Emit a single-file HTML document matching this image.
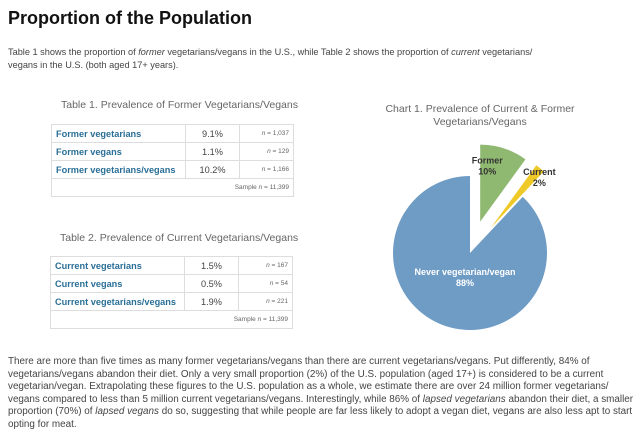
<!DOCTYPE html>
<html><head><meta charset="utf-8">
<style>
body{margin:0;width:640px;height:430px;background:#fff;font-family:"Liberation Sans",Arial,sans-serif;color:#333;position:relative;overflow:hidden}
.abs{position:absolute}
h1{position:absolute;left:8px;top:8px;margin:0;font-size:18px;font-weight:bold;color:#111;white-space:nowrap}
.p{font-size:9.2px;line-height:12.5px;color:#444;white-space:nowrap}
.tt{font-size:10.5px;color:#666}
table{position:absolute;border-collapse:collapse;font-size:9.2px}
td{border:1px solid #ddd;height:17px;padding:0 4px}
td.l{color:#2a6f97;font-weight:bold;width:125px}
td.v{text-align:center;color:#444;width:45px}
td.n{text-align:right;color:#666;font-size:6.5px;width:45px}
td.s{text-align:right;color:#666;font-size:6.5px}
</style></head><body>
<h1>Proportion of the Population</h1>
<div class="abs p" style="left:8px;top:46px">Table 1 shows the proportion of <i>former</i> vegetarians/vegans in the U.S., while Table 2 shows the proportion of <i>current</i> vegetarians/<br>vegans in the U.S. (both aged 17+ years).</div>

<div class="abs tt" style="left:61px;top:99px">Table 1. Prevalence of Former Vegetarians/Vegans</div>
<table style="left:51px;top:124px;width:243px">
<tr><td class="l">Former vegetarians</td><td class="v">9.1%</td><td class="n"><i>n</i> = 1,037</td></tr>
<tr><td class="l">Former vegans</td><td class="v">1.1%</td><td class="n"><i>n</i> = 129</td></tr>
<tr><td class="l">Former vegetarians/vegans</td><td class="v">10.2%</td><td class="n"><i>n</i> = 1,166</td></tr>
<tr><td colspan="3" class="s">Sample <i>n</i> = 11,399</td></tr>
</table>

<div class="abs tt" style="left:60px;top:232px">Table 2. Prevalence of Current Vegetarians/Vegans</div>
<table style="left:50px;top:256px;width:243px">
<tr><td class="l">Current vegetarians</td><td class="v">1.5%</td><td class="n"><i>n</i> = 167</td></tr>
<tr><td class="l">Current vegans</td><td class="v">0.5%</td><td class="n"><i>n</i> = 54</td></tr>
<tr><td class="l">Current vegetarians/vegans</td><td class="v">1.9%</td><td class="n"><i>n</i> = 221</td></tr>
<tr><td colspan="3" class="s">Sample <i>n</i> = 11,399</td></tr>
</table>

<div class="abs tt" style="left:380px;top:103px;width:200px;text-align:center;line-height:12.5px">Chart 1. Prevalence of Current &amp; Former<br>Vegetarians/Vegans</div>
<svg class="abs" style="left:0;top:0" width="640" height="430" id="pie"></svg>

<div class="abs p" style="left:8px;top:356px;font-size:9.9px;line-height:12.6px">There are more than five times as many former vegetarians/vegans than there are current vegetarians/vegans. Put differently, 84% of<br>vegetarians/vegans abandon their diet. Only a very small proportion (2%) of the U.S. population (aged 17+) is considered to be a current<br>vegetarian/vegan. Extrapolating these figures to the U.S. population as a whole, we estimate there are over 24 million former vegetarians/<br>vegans compared to less than 5 million current vegetarians/vegans. Interestingly, while 86% of <i>lapsed vegetarians</i> abandon their diet, a smaller<br>proportion (70%) of <i>lapsed vegans</i> do so, suggesting that while people are far less likely to adopt a vegan diet, vegans are also less apt to start<br>opting for meat.</div>

<script>
const labels=["Former","Current","Never vegetarian/vegan"];
const values=[10,2,88];
const explode=[33,33,0];
const colors=["#8fb870","#efc928","#6f9cc5"];
const svg=document.getElementById('pie');
const NS="http://www.w3.org/2000/svg";
const cx=470,cy=253,r=77;
const total=values.reduce((a,b)=>a+b,0);
let acc=0;
const pt=(a,rad,ox,oy)=>[ox+rad*Math.sin(a),oy-rad*Math.cos(a)];
values.forEach((v,i)=>{
  const a0=acc/total*2*Math.PI; acc+=v; const a1=acc/total*2*Math.PI;
  const am=(a0+a1)/2;
  const ox=cx+explode[i]*Math.sin(am), oy=cy-explode[i]*Math.cos(am);
  const p0=pt(a0,r,ox,oy),p1=pt(a1,r,ox,oy);
  const path=document.createElementNS(NS,'path');
  path.setAttribute('d',`M${ox},${oy}L${p0[0]},${p0[1]}A${r},${r} 0 ${a1-a0>Math.PI?1:0} 1 ${p1[0]},${p1[1]}Z`);
  path.setAttribute('fill',colors[i]);
  
  
  svg.appendChild(path);
  const lr=i===2?0.35*r:(i===0?0.55*r:0.72*r);
  const lp=i===2?[cx-5,cy+22]:pt(am,lr,ox,oy);
  const t=document.createElementNS(NS,'text');
  t.setAttribute('x',i===0?lp[0]-6:(i===1?lp[0]+13:lp[0]));
  t.setAttribute('y',i===0?lp[1]-18:(i===1?lp[1]-10:lp[1]));
  t.setAttribute('text-anchor','middle');
  t.setAttribute('font-size','9');
  t.setAttribute('font-weight','bold');
  t.setAttribute('fill',i===2?'#fff':'#333');
  
  
  const s1=document.createElementNS(NS,'tspan');s1.textContent=labels[i];
  const s2=document.createElementNS(NS,'tspan');s2.setAttribute('x',t.getAttribute('x'));s2.setAttribute('dy','11');
  s2.textContent=Math.round(v/total*100)+'%';
  t.appendChild(s1);t.appendChild(s2);svg.appendChild(t);
});
</script>
</body></html>
